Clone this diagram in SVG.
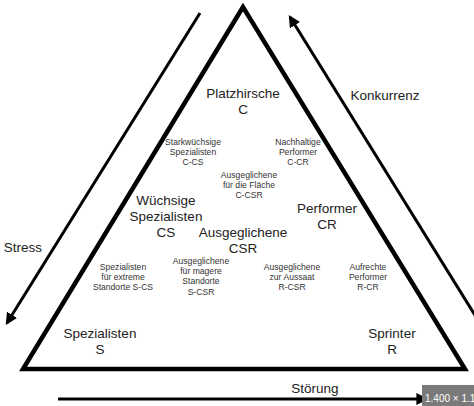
<svg xmlns="http://www.w3.org/2000/svg" width="474" height="406" viewBox="0 0 474 406">
<style>
text{font-family:"Liberation Sans",Arial,sans-serif;fill:#222;text-anchor:middle}
.big{font-size:13.5px}
.sm{font-size:8.6px;fill:#333}
.ax{stroke:#000;stroke-width:3;fill:none}
</style>
<defs>
<marker id="ah" viewBox="0 0 10 10" refX="8" refY="5" markerWidth="4" markerHeight="4" orient="auto" markerUnits="strokeWidth">
<path d="M0,0 L10,5 L0,10 z" fill="#000"/>
</marker>
</defs>
<rect width="474" height="406" fill="#fff"/>
<g id="triangle">
<polygon points="243,7 23,369 465,369" fill="none" stroke="#000" stroke-width="4.5" stroke-linejoin="miter"/>
</g>
<g id="connectors">
<line class="ax" x1="200" y1="13" x2="7" y2="323" marker-end="url(#ah)"/>
<line class="ax" x1="478" y1="320" x2="290" y2="17" marker-end="url(#ah)"/>
<line class="ax" x1="58" y1="399" x2="426" y2="399" marker-end="url(#ah)"/>
</g>
<g id="axis-labels">
<text class="big" x="23" y="252">Stress</text>
<text class="big" x="385" y="100">Konkurrenz</text>
<text class="big" x="315" y="393">Störung</text>
</g>
<g id="node-C"><text class="big" x="243" y="98">Platzhirsche</text><text class="big" x="243" y="114">C</text></g>
<g id="node-C-CS"><text class="sm" x="193" y="145">Starkwüchsige</text><text class="sm" x="193" y="155">Spezialisten</text><text class="sm" x="193" y="165">C-CS</text></g>
<g id="node-C-CR"><text class="sm" x="298" y="145">Nachhaltige</text><text class="sm" x="298" y="155">Performer</text><text class="sm" x="298" y="165">C-CR</text></g>
<g id="node-C-CSR"><text class="sm" x="249" y="178">Ausgeglichene</text><text class="sm" x="249" y="188">für die Fläche</text><text class="sm" x="249" y="198">C-CSR</text></g>
<g id="node-CS"><text class="big" x="166" y="205">Wüchsige</text><text class="big" x="166" y="221">Spezialisten</text><text class="big" x="166" y="237">CS</text></g>
<g id="node-CR"><text class="big" x="327" y="213">Performer</text><text class="big" x="327" y="229">CR</text></g>
<g id="node-CSR"><text class="big" x="243" y="237">Ausgeglichene</text><text class="big" x="243" y="253">CSR</text></g>
<g id="node-S-CS"><text class="sm" x="123" y="270">Spezialisten</text><text class="sm" x="123" y="280">für extreme</text><text class="sm" x="123" y="290">Standorte S-CS</text></g>
<g id="node-S-CSR"><text class="sm" x="201" y="264">Ausgeglichene</text><text class="sm" x="201" y="274">für magere</text><text class="sm" x="201" y="284">Standorte</text><text class="sm" x="201" y="295">S-CSR</text></g>
<g id="node-R-CSR"><text class="sm" x="292" y="270">Ausgeglichene</text><text class="sm" x="292" y="280">zur Aussaat</text><text class="sm" x="292" y="290">R-CSR</text></g>
<g id="node-R-CR"><text class="sm" x="368" y="270">Aufrechte</text><text class="sm" x="368" y="280">Performer</text><text class="sm" x="368" y="290">R-CR</text></g>
<g id="node-S"><text class="big" x="100" y="338">Spezialisten</text><text class="big" x="100" y="354">S</text></g>
<g id="node-R"><text class="big" x="392" y="338">Sprinter</text><text class="big" x="392" y="354">R</text></g>
<g id="size-badge">
<rect x="422" y="385" width="52" height="21" fill="#7a7a7a"/>
<text x="425" y="402" style="font-size:10px;fill:#fff;text-anchor:start">1.400 × 1.1</text>
</g>
</svg>
